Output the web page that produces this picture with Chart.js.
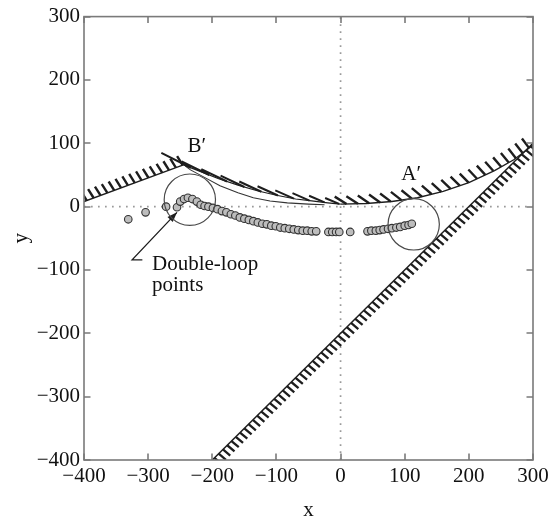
<!DOCTYPE html>
<html><head><meta charset="utf-8">
<script src="https://cdn.jsdelivr.net/npm/chart.js@4.4.1/dist/chart.umd.min.js"></script>
<style>html,body{margin:0;padding:0;background:#fff;}#wrap{width:554px;height:519px;position:relative;}</style>
</head><body><div id="wrap"><canvas id="c"></canvas></div>
<script>
// ---- data ----
const xTicks = [-400, -300, -200, -100, 0, 100, 200, 300];
const yTicks = [-400, -300, -200, -100, 0, 100, 200, 300];
const xTickLabels = ['−400', '−300', '−200', '−100', '0', '100', '200', '300'];
const yTickLabels = ['−400', '−300', '−200', '−100', '0', '100', '200', '300'];

const pointsX = [-331, -304, -272, -255, -250, -244, -238, -231, -224, -218, -212, -206,
  -199, -192, -185, -178, -171, -164, -157, -150, -143, -136, -129, -122, -115, -108, -101,
  -94, -87, -80, -73, -66, -59, -52, -45, -38,
  -19, -13, -7, -2, 15,
  42, 48, 55, 61, 67, 74, 80, 87, 93, 100, 106, 111];
const pointsY = [-20, -9, 0, -1, 8, 12, 14, 12, 8, 3, 1, 0,
  -2, -4, -7, -9, -12, -14, -17, -19, -21, -23, -25, -27, -28, -30, -31,
  -33, -34, -35, -36, -37, -38, -38, -39, -39,
  -40, -40, -40, -40, -40,
  -39, -38, -38, -37, -36, -35, -34, -33, -32, -30, -29, -27];

const boundLeftX = [-400, -245];
const boundLeftY = [8, 66];
const boundMidX = [-245, -220, -190, -160, -130, -100, -70, -45, -20, 0];
const boundMidY = [66, 56, 44, 34, 25, 18, 12, 9, 6, 4];
const boundRightX = [0, 40, 80, 120, 160, 200, 240, 270, 300];
const boundRightY = [4, 5, 8, 14, 24, 38, 57, 74, 97];
const innerX = [-242, -234, -210, -188, -160, -136, -110, -83, -50, -25];
const innerY = [64, 58, 45, 33, 22, 14, 9, 6, 4, 3];
const limitX = [-200, 300];
const limitY = [-400, 100];
const zeroHX = [-400, 300];
const zeroHY = [0, 0];
const zeroVX = [0, 0];
const zeroVY = [-400, 300];
const circleX = [-235, 114];
const circleY = [11, -28];
const circleR = [40, 40];
const arrowX = [-309, -325, -255];
const arrowY = [-84, -84, -9];
const noteText = ['B′', 'A′', 'Double-loop', 'points'];
const noteX = [-224, 110, -294, -294];
const noteY = [95, 50, -91, -125];

const zip = (xs, ys) => xs.map((x, i) => ({x: x, y: ys[i]}));
const FONT = "'Liberation Serif', 'Times New Roman', serif";
const INK = '#1e1e1e';
const FRAME = '#7a7a7a';

const lineDs = (xs, ys, extra) => Object.assign({
  data: zip(xs, ys), showLine: true, pointRadius: 0, pointHoverRadius: 0,
  borderColor: INK, borderWidth: 1.4, fill: false, tension: 0
}, extra);

const datasets = [
  {label: 'points', data: zip(pointsX, pointsY), showLine: false, pointRadius: 3.8,
   pointBackgroundColor: '#bdbdbd', pointBorderColor: '#333', pointBorderWidth: 1.1},
  lineDs(arrowX, arrowY, {label: 'arrow', borderWidth: 1.3, arrowHead: true}),
  lineDs(boundLeftX, boundLeftY, {label: 'boundary-left',
    hatch: {spacing: [7.3, 7.3], len: [10.5, 10.5], angle: [-122, -122], width: 2.4}}),
  lineDs(boundMidX, boundMidY, {label: 'boundary-mid', borderWidth: 1.2,
    hatch: {spacing: [20, 14], len: [34, 15], angle: [-153, -157], width: 2.0, start: 8}}),
  lineDs(boundRightX, boundRightY, {label: 'boundary-right',
    hatch: {spacing: [11.5, 8], len: [14, 12], angle: [-149, -126], width: 2.4, start: 6}}),
  lineDs(innerX, innerY, {label: 'inner', borderWidth: 1.1, borderColor: '#333'}),
  lineDs(limitX, limitY, {label: 'limit', borderWidth: 1.5,
    hatch: {spacing: [6, 6], len: [9.5, 9.5], angle: [40, 40], width: 2.3, start: 3}}),
  lineDs(zeroHX, zeroHY, {label: 'zero-h', borderColor: '#9a9a9a', borderWidth: 1.7, borderDash: [1.7, 5.3]}),
  lineDs(zeroVX, zeroVY, {label: 'zero-v', borderColor: '#9a9a9a', borderWidth: 1.7, borderDash: [1.7, 5.3]})
];

const lerp = (a, b, t) => a + (b - a) * t;

const decorPlugin = {
  id: 'decor',
  afterDatasetsDraw(chart) {
    const ctx = chart.ctx, xs = chart.scales.x, ys = chart.scales.y, ca = chart.chartArea;
    // hatches
    chart.data.datasets.forEach((ds, i) => {
      if (!ds.hatch) return;
      const h = ds.hatch;
      const pts = chart.getDatasetMeta(i).data.map(p => ({x: p.x, y: p.y}));
      let total = 0;
      for (let k = 0; k < pts.length - 1; k++) total += Math.hypot(pts[k + 1].x - pts[k].x, pts[k + 1].y - pts[k].y);
      ctx.save();
      ctx.beginPath();
      ctx.rect(ca.left, ca.top, ca.right - ca.left, ca.bottom - ca.top);
      ctx.clip();
      ctx.strokeStyle = ds.borderColor; ctx.lineWidth = h.width; ctx.lineCap = 'butt';
      ctx.beginPath();
      let s = h.start || 3, acc = 0;
      for (let k = 0; k < pts.length - 1; k++) {
        const a = pts[k], b = pts[k + 1];
        const dx = b.x - a.x, dy = b.y - a.y, L = Math.hypot(dx, dy);
        if (L === 0) continue;
        while (s <= acc + L) {
          const t = (s - acc) / L, f = s / total;
          const px = a.x + dx * t, py = a.y + dy * t;
          const ang = lerp(h.angle[0], h.angle[1], f) * Math.PI / 180;
          const len = lerp(h.len[0], h.len[1], f);
          ctx.moveTo(px, py);
          ctx.lineTo(px + Math.cos(ang) * len, py + Math.sin(ang) * len);
          s += lerp(h.spacing[0], h.spacing[1], f);
        }
        acc += L;
      }
      ctx.stroke();
      ctx.restore();
    });
    // arrow head
    chart.data.datasets.forEach((ds, i) => {
      if (!ds.arrowHead) return;
      const d = chart.getDatasetMeta(i).data;
      const a = d[d.length - 2], b = d[d.length - 1];
      const ang = Math.atan2(b.y - a.y, b.x - a.x), L = 10, W = 3.6;
      ctx.save();
      ctx.fillStyle = INK;
      ctx.beginPath();
      ctx.moveTo(b.x, b.y);
      ctx.lineTo(b.x - L * Math.cos(ang) + W * Math.sin(ang), b.y - L * Math.sin(ang) - W * Math.cos(ang));
      ctx.lineTo(b.x - L * Math.cos(ang) - W * Math.sin(ang), b.y - L * Math.sin(ang) + W * Math.cos(ang));
      ctx.closePath();
      ctx.fill();
      ctx.restore();
    });
    // circles
    ctx.save();
    ctx.strokeStyle = '#4a4a4a'; ctx.lineWidth = 1.2;
    circleX.forEach((cx, i) => {
      const px = xs.getPixelForValue(cx), py = ys.getPixelForValue(circleY[i]);
      const r = Math.abs(xs.getPixelForValue(cx + circleR[i]) - px);
      ctx.beginPath(); ctx.arc(px, py, r, 0, Math.PI * 2); ctx.stroke();
    });
    ctx.restore();
    // notes
    ctx.save();
    ctx.fillStyle = '#111'; ctx.font = '21px ' + FONT; ctx.textBaseline = 'middle';
    noteText.forEach((t, i) => {
      ctx.textAlign = i < 2 ? 'center' : 'left';
      ctx.fillText(t, xs.getPixelForValue(noteX[i]), ys.getPixelForValue(noteY[i]));
    });
    ctx.restore();
    // frame and inward ticks
    ctx.save();
    ctx.strokeStyle = FRAME; ctx.lineWidth = 1.6;
    ctx.strokeRect(ca.left, ca.top, ca.right - ca.left, ca.bottom - ca.top);
    ctx.beginPath();
    const T = 6.5;
    xTicks.forEach(v => {
      const p = Math.round(xs.getPixelForValue(v));
      ctx.moveTo(p, ca.bottom); ctx.lineTo(p, ca.bottom - T);
      ctx.moveTo(p, ca.top); ctx.lineTo(p, ca.top + T);
    });
    yTicks.forEach(v => {
      const p = Math.round(ys.getPixelForValue(v));
      ctx.moveTo(ca.left, p); ctx.lineTo(ca.left + T, p);
      ctx.moveTo(ca.right, p); ctx.lineTo(ca.right - T, p);
    });
    ctx.stroke();
    ctx.restore();
  }
};

new Chart(document.getElementById('c'), {
  type: 'scatter',
  data: {datasets: datasets},
  options: {
    responsive: true, maintainAspectRatio: false, animation: false, devicePixelRatio: 1,
    layout: {padding: {top: 12, right: 21, left: 0, bottom: 0}},
    plugins: {legend: {display: false}, tooltip: {enabled: false}},
    events: [],
    scales: {
      x: {
        type: 'linear', position: 'bottom', min: -400, max: 300,
        afterBuildTicks: s => { s.ticks = xTicks.map(v => ({value: v})); },
        afterFit: s => { s.height = 59; },
        grid: {display: false, drawTicks: false}, border: {display: false},
        ticks: {padding: 4, color: '#111', font: {family: FONT, size: 21},
          maxRotation: 0, autoSkip: false,
          callback: v => xTickLabels[xTicks.indexOf(v)]},
        title: {display: true, text: 'x', color: '#111', font: {family: FONT, size: 21, lineHeight: 0.85}, padding: {top: 0, bottom: 0}}
      },
      y: {
        type: 'linear', position: 'left', min: -400, max: 300,
        afterBuildTicks: s => { s.ticks = yTicks.map(v => ({value: v})); },
        afterFit: s => { s.width = 84; },
        grid: {display: false, drawTicks: false}, border: {display: false},
        ticks: {padding: 4, color: '#111', font: {family: FONT, size: 21}, autoSkip: false,
          callback: v => yTickLabels[yTicks.indexOf(v)]},
        title: {display: true, text: 'y', color: '#111', font: {family: FONT, size: 21}, padding: {top: 9, bottom: 0}}
      }
    }
  },
  plugins: [decorPlugin]
});
</script></body></html>
